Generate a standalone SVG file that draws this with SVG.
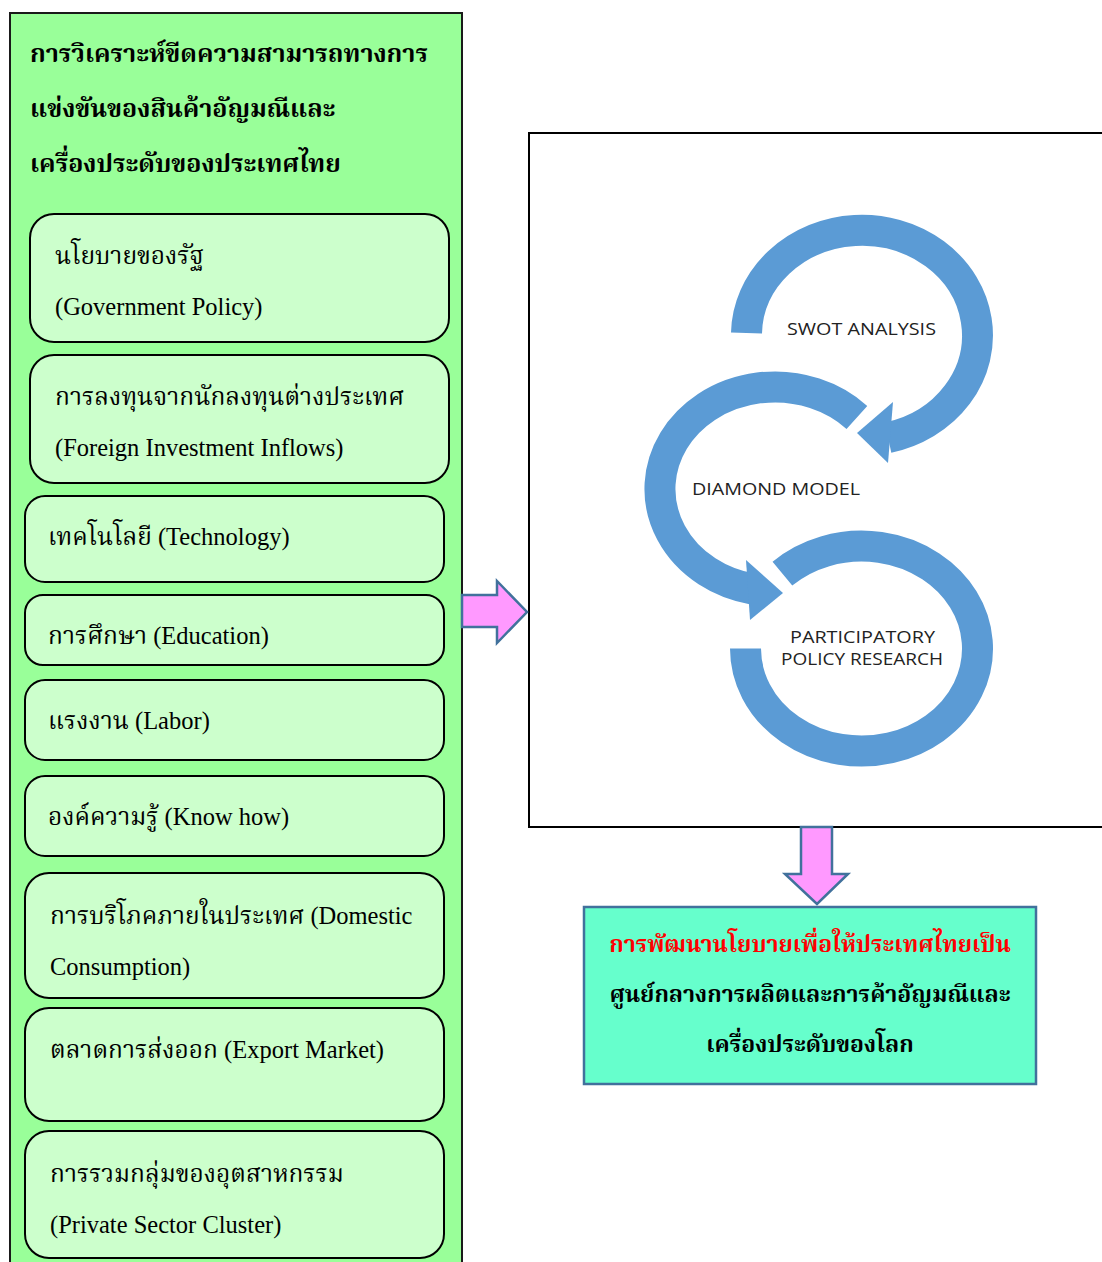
<svg xmlns="http://www.w3.org/2000/svg" width="1102" height="1262" viewBox="0 0 1102 1262">
  <style>
    .panel{fill:#99ff99;stroke:#1a1a1a;stroke-width:2}
    .factor{fill:#ccffcc;stroke:#000;stroke-width:2}
    .txt{font-family:"Liberation Serif","Noto Serif Thai","Noto Sans Thai",serif;font-size:24.5px;fill:#000}
    .head{font-family:"Liberation Serif","Noto Serif Thai","Noto Sans Thai",serif;font-size:25px;font-weight:bold;fill:#000}
    .goal{font-family:"Liberation Serif","Noto Serif Thai","Noto Sans Thai",serif;font-size:23px;font-weight:bold;fill:#000;text-anchor:middle}
    .cyc{fill:none;stroke:#5b9bd5;stroke-width:31;stroke-linecap:butt}
    .cychead{fill:#5b9bd5}
    .cyclbl{font-family:"Open Sans","Lato",sans-serif;font-size:15.5px;fill:#222;text-anchor:middle}
    .block{fill:#ff99ff;stroke:#41719c;stroke-width:2.5;stroke-linejoin:miter}
  </style>

  <!-- left panel: factors of competitiveness -->
  <g id="factors-panel">
    <rect class="panel" x="10" y="13" width="452" height="1262"/>
    <text class="head" x="30" y="62">การวิเคราะห์ขีดความสามารถทางการ</text>
    <text class="head" x="30" y="117">แข่งขันของสินค้าอัญมณีและ</text>
    <text class="head" x="30" y="172">เครื่องประดับของประเทศไทย</text>
  </g>

  <g id="factor-government">
    <rect class="factor" x="30" y="214" width="419" height="128" rx="24"/>
    <text class="txt" x="55" y="264">นโยบายของรัฐ</text>
    <text class="txt" x="55" y="315">(Government Policy)</text>
  </g>
  <g id="factor-investment">
    <rect class="factor" x="30" y="355" width="419" height="128" rx="24"/>
    <text class="txt" x="55" y="405">การลงทุนจากนักลงทุนต่างประเทศ</text>
    <text class="txt" x="55" y="456">(Foreign Investment Inflows)</text>
  </g>
  <g id="factor-technology">
    <rect class="factor" x="25" y="496" width="419" height="86" rx="20"/>
    <text class="txt" x="48" y="545">เทคโนโลยี (Technology)</text>
  </g>
  <g id="factor-education">
    <rect class="factor" x="25" y="595" width="419" height="70" rx="18"/>
    <text class="txt" x="48" y="644">การศึกษา (Education)</text>
  </g>
  <g id="factor-labor">
    <rect class="factor" x="25" y="680" width="419" height="80" rx="20"/>
    <text class="txt" x="48" y="729">แรงงาน (Labor)</text>
  </g>
  <g id="factor-knowhow">
    <rect class="factor" x="25" y="776" width="419" height="80" rx="20"/>
    <text class="txt" x="48" y="825">องค์ความรู้ (Know how)</text>
  </g>
  <g id="factor-domestic">
    <rect class="factor" x="25" y="873" width="419" height="125" rx="24"/>
    <text class="txt" x="50" y="924">การบริโภคภายในประเทศ (Domestic</text>
    <text class="txt" x="50" y="975">Consumption)</text>
  </g>
  <g id="factor-export">
    <rect class="factor" x="25" y="1008" width="419" height="113" rx="24"/>
    <text class="txt" x="50" y="1058">ตลาดการส่งออก (Export Market)</text>
  </g>
  <g id="factor-cluster">
    <rect class="factor" x="25" y="1131" width="419" height="127" rx="24"/>
    <text class="txt" x="50" y="1182">การรวมกลุ่มของอุตสาหกรรม</text>
    <text class="txt" x="50" y="1233">(Private Sector Cluster)</text>
  </g>

  <!-- analysis cycle frame -->
  <g id="analysis-cycle">
    <rect x="529" y="133" width="590" height="694" fill="#fff" stroke="#000" stroke-width="2"/>
    <!-- SWOT arc -->
    <path class="cyc" d="M746.5,333 A115.5,105 0 1 1 888.1,437.6"/>
    <polygon class="cychead" points="893,402 857,433 888,463"/>
    <!-- Diamond model arc -->
    <path class="cyc" d="M856.9,417.4 A115,102 0 1 0 753.1,589.1"/>
    <polygon class="cychead" points="746,560 783,593 750,620"/>
    <!-- Participatory research arc -->
    <path class="cyc" d="M782.4,573.6 A116,102.5 0 1 1 745.5,648.5"/>
    <text class="cyclbl" x="861.5" y="335" textLength="149" lengthAdjust="spacingAndGlyphs">SWOT ANALYSIS</text>
    <text class="cyclbl" x="776" y="495" textLength="168" lengthAdjust="spacingAndGlyphs">DIAMOND MODEL</text>
    <text class="cyclbl" x="862.5" y="643" textLength="145" lengthAdjust="spacingAndGlyphs">PARTICIPATORY</text>
    <text class="cyclbl" x="862" y="665" textLength="162" lengthAdjust="spacingAndGlyphs">POLICY RESEARCH</text>
  </g>

  <!-- outcome -->
  <g id="policy-goal">
    <rect x="584" y="907" width="452" height="177" fill="#66ffcc" stroke="#41719c" stroke-width="2.5"/>
    <text class="goal" x="810" y="952" style="fill:#ff0000">การพัฒนานโยบายเพื่อให้ประเทศไทยเป็น</text>
    <text class="goal" x="810" y="1002">ศูนย์กลางการผลิตและการค้าอัญมณีและ</text>
    <text class="goal" x="810" y="1052">เครื่องประดับของโลก</text>
  </g>

  <!-- connectors -->
  <g id="connectors">
    <polygon class="block" points="462,595 497,595 497,581 527,612 497,643 497,627 462,627"/>
    <polygon class="block" points="801,827 832,827 832,874 848,874 817,904 785,874 801,874"/>
  </g>
</svg>
